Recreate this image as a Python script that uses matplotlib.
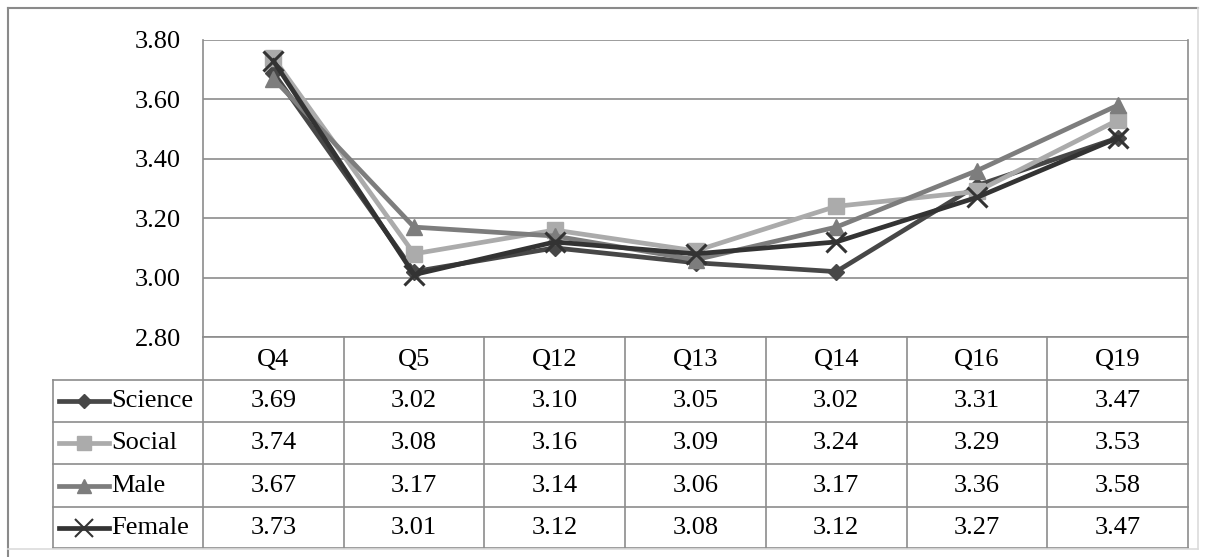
import matplotlib
matplotlib.use("Agg")
import matplotlib.pyplot as plt
from matplotlib.lines import Line2D
from matplotlib.transforms import blended_transform_factory

categories = ["Q4", "Q5", "Q12", "Q13", "Q14", "Q16", "Q19"]
series_names = ["Science", "Social", "Male", "Female"]
science = [3.69, 3.02, 3.10, 3.05, 3.02, 3.31, 3.47]
social = [3.74, 3.08, 3.16, 3.09, 3.24, 3.29, 3.53]
male = [3.67, 3.17, 3.14, 3.06, 3.17, 3.36, 3.58]
female = [3.73, 3.01, 3.12, 3.08, 3.12, 3.27, 3.47]
y_ticks = [2.80, 3.00, 3.20, 3.40, 3.60, 3.80]

series_values = [science, social, male, female]
colors = ["#474747", "#ababab", "#7d7d7d", "#333333"]
markers = ["D", "s", "^", "x"]
msizes = [8, 11, 11, 14]

FONT = "Liberation Serif"
FS = 19
plt.rcParams["font.family"] = "serif"
plt.rcParams["font.serif"] = [FONT, "DejaVu Serif"]

W, H = 1208, 557
fig = plt.figure(figsize=(W / 100, H / 100), dpi=100)

# plot area in pixel coordinates
left, right, top, bottom = 203, 1188, 40, 337
ax = fig.add_axes([left / W, 1 - bottom / H, (right - left) / W, (bottom - top) / H])
n = len(categories)
x = list(range(n))
ax.set_xlim(-0.5, n - 0.5)
ax.set_ylim(2.80, 3.80)
ax.set_yticks(y_ticks)
ax.set_yticklabels([f"{v:.2f}" for v in y_ticks], fontsize=FS, fontfamily=FONT)
ax.tick_params(axis="y", length=0, pad=16)
ax.set_xticks([])
ax.grid(axis="y", color="#8c8c8c", linewidth=1.2)
for s in ["top", "bottom"]:
    ax.spines[s].set_visible(False)
for s in ["left", "right"]:
    ax.spines[s].set_color("#8c8c8c")
    ax.spines[s].set_linewidth(1.2)
ax.set_axisbelow(True)

for name, vals, c, m, ms in zip(series_names, series_values, colors, markers, msizes):
    ax.plot(x, vals, color=c, linewidth=3.4, marker=m, markersize=ms,
            markeredgewidth=2.2 if m == "x" else 1, markeredgecolor=c,
            markerfacecolor=c, label=name, zorder=3)

# data table under the plot, x in data units, y in figure pixels
trans = blended_transform_factory(ax.transData, fig.transFigure)
col_w = (right - left) / n
leg_left = -0.5 - (left - 53) / col_w
rows_px = [337, 380, 422, 464, 507, 548]
yf = lambda p: 1 - p / H
lc = "#8c8c8c"

def hline(x0, x1, p):
    fig.add_artist(Line2D([x0, x1], [yf(p), yf(p)], transform=trans, color=lc, lw=1.2))

def vline(xx, p0, p1):
    fig.add_artist(Line2D([xx, xx], [yf(p0), yf(p1)], transform=trans, color=lc, lw=1.2))

hline(-0.5, n - 0.5, rows_px[0])
for p in rows_px[1:]:
    hline(leg_left, n - 0.5, p)
for i in range(n + 1):
    vline(i - 0.5, rows_px[0], rows_px[-1])
vline(leg_left, rows_px[1], rows_px[-1])

for i, cat in enumerate(categories):
    fig.text(i, yf((rows_px[0] + rows_px[1]) / 2 + 1), cat, transform=trans,
             ha="center", va="center", fontsize=FS, fontfamily=FONT)

for r, (name, vals, c, m, ms) in enumerate(zip(series_names, series_values, colors, markers, msizes)):
    yc = yf((rows_px[r + 1] + rows_px[r + 2]) / 2)
    for i, v in enumerate(vals):
        fig.text(i, yc, f"{v:.2f}", transform=trans, ha="center", va="center",
                 fontsize=FS, fontfamily=FONT)
    # legend key
    kx0 = leg_left + 6 / col_w
    kx1 = leg_left + 56 / col_w
    fig.add_artist(Line2D([kx0, kx1], [yc, yc], transform=trans, color=c, lw=3.4))
    fig.add_artist(Line2D([(kx0 + kx1) / 2], [yc], transform=trans, color=c, marker=m,
                          markersize=ms * 0.9, markeredgecolor=c, markerfacecolor=c,
                          markeredgewidth=1.5 if m == "x" else 1, linestyle="none"))
    fig.text(leg_left + 58 / col_w, yc, name, transform=trans, ha="left", va="center",
             fontsize=FS, fontfamily=FONT)

# outer frame
fig.add_artist(Line2D([8 / W, 8 / W], [0, 1 - 8 / H], color="#8a8a8a", lw=1.5))
fig.add_artist(Line2D([8 / W, 1198 / W], [1 - 8 / H, 1 - 8 / H], color="#8a8a8a", lw=1.5))
fig.add_artist(Line2D([1198 / W, 1198 / W], [1 - 8 / H, 8 / H], color="#dcdcdc", lw=1.2))
fig.add_artist(Line2D([8 / W, 1198 / W], [8 / H, 8 / H], color="#dcdcdc", lw=1.2))

fig.savefig("out.png", dpi=100, facecolor="white")
